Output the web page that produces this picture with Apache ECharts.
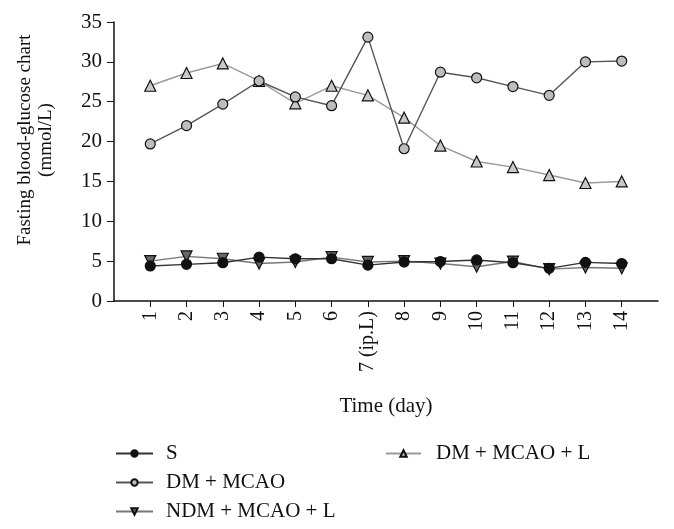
<!DOCTYPE html>
<html><head><meta charset="utf-8">
<script src="https://cdn.jsdelivr.net/npm/echarts@6/dist/echarts.min.js"></script>
<style>html,body{margin:0;padding:0;background:#fff}#c{width:674px;height:529px}</style>
</head><body><div id="c"></div>
<script>
const dayLabels = ['1','2','3','4','5','6','7 (ip.L)','8','9','10','11','12','13','14'];
const sValues = [4.4, 4.6, 4.8, 5.5, 5.3, 5.3, 4.5, 4.9, 4.95, 5.15, 4.8, 4.1, 4.85, 4.7];
const dmMcaoValues = [19.7, 22.0, 24.7, 27.6, 25.6, 24.5, 33.1, 19.1, 28.7, 28.0, 26.9, 25.8, 30.0, 30.1];
const ndmMcaoLValues = [5.0, 5.6, 5.3, 4.7, 4.9, 5.5, 4.9, 5.0, 4.7, 4.3, 4.95, 4.0, 4.2, 4.1];
const dmMcaoLValues = [27.0, 28.6, 29.8, 27.6, 24.8, 27.0, 25.8, 23.0, 19.5, 17.5, 16.8, 15.8, 14.8, 15.0];
const yTicks = [0, 5, 10, 15, 20, 25, 30, 35];

const cats = [''].concat(dayLabels, ['']);
const FONT = 'Liberation Serif';
function toData(vals){ return vals.map((v,i)=>[dayLabels[i], v]); }
function mk(name, vals, symbol, lineColor, fill, rotate){
  return {
    name, type:'line', data: toData(vals), symbol, symbolSize: symbol==='circle'?10:11,
    symbolRotate: rotate||0,
    lineStyle:{color:lineColor, width:1.4},
    itemStyle:{color:fill, borderColor:'#111', borderWidth:1.2},
    emphasis:{disabled:true}, animation:false
  };
}
const chart = echarts.init(document.getElementById('c'), null, {renderer:'canvas'});
chart.setOption({
  animation:false,
  grid:{left:114, top:22, right:16, bottom:228, containLabel:false},
  xAxis:{
    type:'category', data:cats, boundaryGap:false,
    name:'Time (day)', nameLocation:'middle', nameGap:95,
    nameTextStyle:{fontFamily:FONT, fontSize:21, color:'#111'},
    axisLine:{lineStyle:{color:'#111', width:1.5}},
    axisTick:{length:6, lineStyle:{color:'#111'}, interval:(i)=> i>0 && i<cats.length-1},
    axisLabel:{rotate:90, margin:10, fontFamily:FONT, fontSize:20, color:'#111', interval:(i)=> i>0 && i<cats.length-1}
  },
  yAxis:{
    type:'value', min:yTicks[0], max:yTicks[yTicks.length-1], interval:5,
    axisLine:{show:true, lineStyle:{color:'#111', width:1.5}},
    axisTick:{show:true, length:7, lineStyle:{color:'#111'}},
    axisLabel:{fontFamily:FONT, fontSize:21, color:'#111', margin:12},
    splitLine:{show:false}
  },
  legend:[
    {left:115, top:443, padding:0, orient:'vertical', itemGap:8, itemWidth:37, itemHeight:8,
     data:['S','DM + MCAO','NDM + MCAO + L'],
     textStyle:{fontFamily:FONT, fontSize:21, color:'#111', padding:[0,0,0,8]}},
    {left:385, top:443, padding:0, orient:'vertical', itemWidth:35, itemHeight:8,
     data:['DM + MCAO + L'],
     textStyle:{fontFamily:FONT, fontSize:21, color:'#111', padding:[0,0,0,10]}}
  ],
  graphic:[{
    type:'text', x:36, y:140, rotation:Math.PI/2,
    style:{text:'Fasting blood-glucose chart\n(mmol/L)', font:'19px "Liberation Serif"', fill:'#111', align:'center', verticalAlign:'middle', lineHeight:21}
  }],
  series:[
    mk('DM + MCAO + L', dmMcaoLValues, 'triangle', '#9a9a9a', '#c8c8c8'),
    mk('DM + MCAO', dmMcaoValues, 'circle', '#555', '#bdbdbd'),
    mk('NDM + MCAO + L', ndmMcaoLValues, 'triangle', '#777', '#666', 180),
    mk('S', sValues, 'circle', '#333', '#111')
  ]
});
</script></body></html>
